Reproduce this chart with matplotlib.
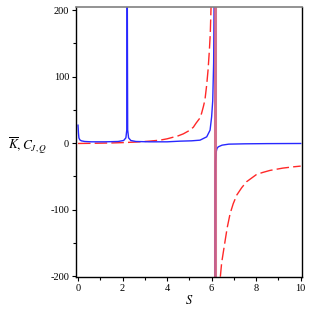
import numpy as np
import matplotlib.pyplot as plt
from matplotlib.ticker import MultipleLocator

# blue solid curve (K bar), left and right of the pole
k_s1 = [0.0, 0.02, 0.04, 0.08, 0.15, 0.3, 0.6, 1.2, 1.8, 2.05, 2.15, 2.19, 2.21,
        2.23, 2.27, 2.37, 2.6, 3.2, 4.0, 4.58, 5.1, 5.48, 5.78, 5.93, 6.0, 6.05,
        6.09, 6.12, 6.14]
k_v1 = [27, 15, 8, 5, 3.5, 2.5, 2, 2, 2.5, 4, 8, 20, 260,
        20, 8, 4, 2.5, 2, 2, 3, 3.5, 4.5, 9.5, 19.5, 39.5, 64,
        120, 250, 400]
k_s2 = [6.14, 6.15, 6.16, 6.17, 6.2, 6.24, 6.3, 6.47, 6.77, 7.5, 8.5, 10.0]
k_v2 = [-400, -200, -60, -28, -14, -8, -5.5, -3, -1.5, -1, -0.7, -0.5]

# red dashed curve (C_{J,Q})
c_s1 = [0.0, 0.5, 1.0, 1.5, 2.0, 2.5, 2.78, 3.2, 3.68, 4.0, 4.28, 4.5, 4.73,
        5.0, 5.18, 5.3, 5.48, 5.55, 5.63, 5.7, 5.78, 5.84, 5.9, 5.94, 5.97,
        6.0, 6.03, 6.06, 6.09, 6.14]
c_v1 = [-0.5, -0.3, 0, 0.3, 0.8, 1.5, 2, 3, 4.5, 6.5, 9, 11, 14,
        19, 24, 30, 38, 45, 55, 65, 88, 110, 140, 165, 200,
        240, 300, 380, 520, 1000]
c_s2 = [6.14, 6.3, 6.38, 6.45, 6.52, 6.6, 6.7, 6.83, 6.97, 7.13, 7.35, 7.57,
        8.02, 8.3, 8.62, 9.2, 9.67, 10.0]
c_v2 = [-1000, -260, -205, -180, -165, -148, -127, -106, -91, -78, -67, -58,
        -47, -44, -41, -37.5, -35.6, -34.5]

plt.rcParams['mathtext.fontset'] = 'stix'
plt.rcParams['font.family'] = 'Liberation Serif'

fig = plt.figure(figsize=(3.09, 3.09), dpi=100)
ax = fig.add_axes([0.246, 0.104, 0.730, 0.873])

ax.plot(c_s1, c_v1, color='#ff2828', lw=1.0, linestyle=(0, (9, 3)))
ax.plot(c_s2, c_v2, color='#ff2828', lw=1.0, linestyle=(0, (9, 3)))
ax.plot(k_s1, k_v1, color='#2828ff', lw=1.0)
ax.plot(k_s2, k_v2, color='#2828ff', lw=1.0)
# connecting line across the pole, where both curves overlap
ax.plot([6.14, 6.14], [-210, 210], color='#d06080', lw=2.2, alpha=0.9)

ax.set_xlim(-0.09, 10.04)
ax.set_ylim(-201, 204.5)

ax.xaxis.set_major_locator(MultipleLocator(2))
ax.xaxis.set_minor_locator(MultipleLocator(1))
ax.yaxis.set_major_locator(MultipleLocator(100))
ax.yaxis.set_minor_locator(MultipleLocator(50))
ax.tick_params(which='both', direction='out', labelsize=7.5, width=0.8, pad=2)
ax.tick_params(which='major', length=3)
ax.tick_params(which='minor', length=2)
ax.yaxis.set_major_formatter(plt.FuncFormatter(lambda v, p: '%d' % v))

for side in ['left', 'bottom', 'right']:
    ax.spines[side].set_linewidth(1.0)
ax.spines['top'].set_color('#808080')
ax.spines['top'].set_linewidth(1.2)

ax.set_xlabel(r'$S$', fontsize=9, labelpad=1)
ax.set_ylabel(r'$\overline{K}, C_{J,Q}$', fontsize=9.5, rotation=0, va='center')
ax.yaxis.set_label_coords(-0.215, 0.49)

fig.savefig('out.png', dpi=100)
